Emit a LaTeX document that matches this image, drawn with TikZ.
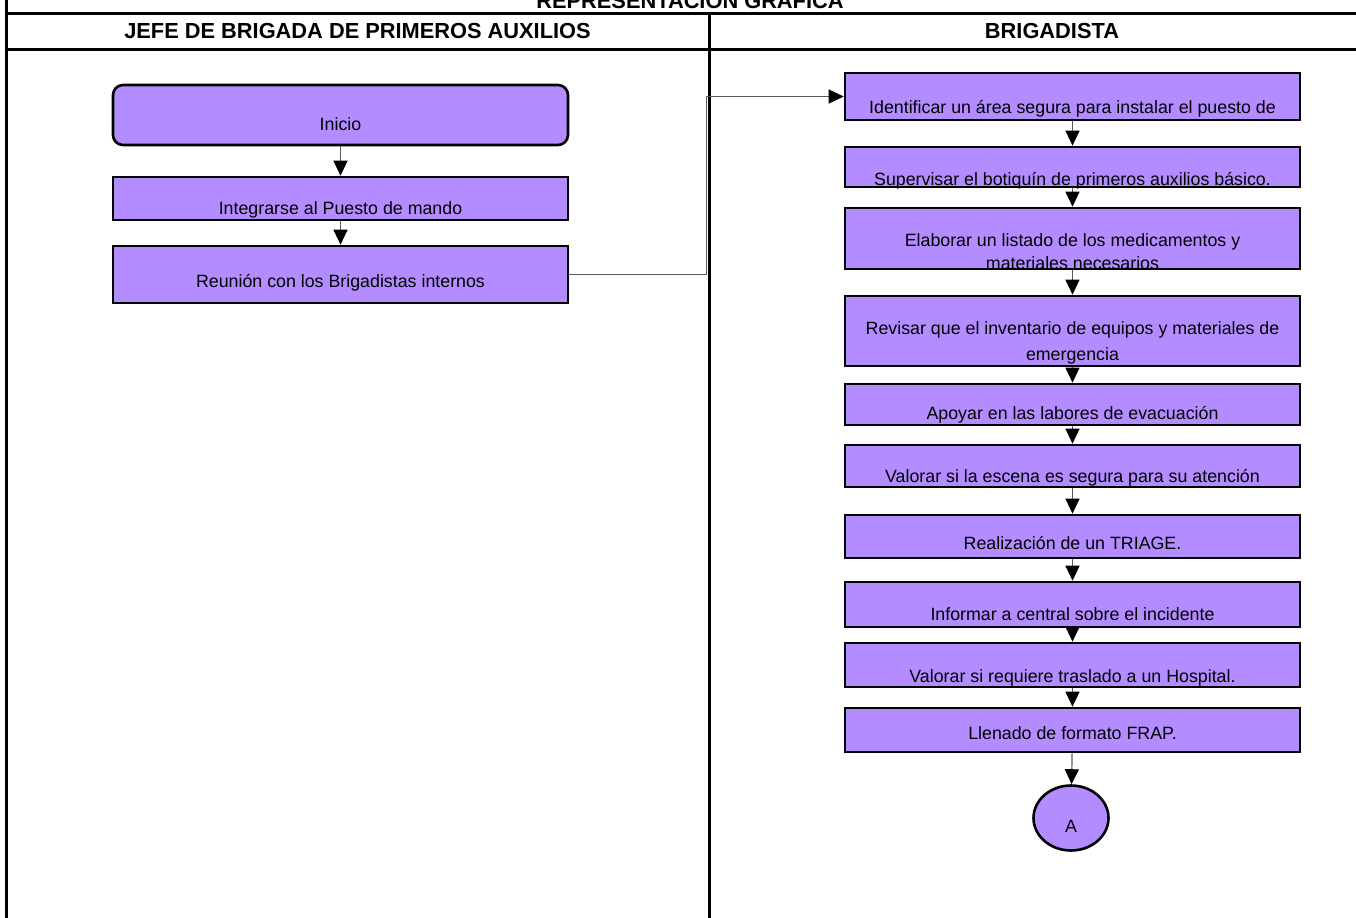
\documentclass[tikz,border=0pt]{standalone}
\usepackage{fontspec}
\setmainfont{Liberation Sans}
\usepackage{tikz}
\usetikzlibrary{arrows.meta,shapes.geometric}
\definecolor{lila}{HTML}{B38DFF}
\tikzset{
  paso/.style 2 args={draw=black, fill=lila, line width=1.3pt, align=center,
              font=\fontsize{8.9pt}{11.5pt}\selectfont, inner xsep=0pt, inner ysep=0pt,
              minimum width=227.5pt, text height=#1, text depth=#2, anchor=base},
  inicio/.style 2 args={paso={#1}{#2}, rounded corners=5pt},
  conector/.style={ellipse, draw=black, fill=lila, line width=1.3pt, font=\fontsize{8.9pt}{11pt}\selectfont,
              minimum width=37.5pt, minimum height=32.5pt, inner sep=0pt, text height=14pt, text depth=0pt},
  flow/.style={-{Triangle[width=7pt, length=7.5pt, color=black]}, line width=0.6pt, draw=black!65},
  rejilla/.style={line width=1.5pt, draw=black},
  encab/.style={font=\fontsize{10.9pt}{13pt}\selectfont\bfseries, inner sep=0pt},
}
\begin{document}
\begin{tikzpicture}[x=0.5pt, y=-0.5pt]
  \useasboundingbox (0,0) rectangle (1356,917);
  \draw[rejilla] (6,-5) -- (6,930);
  \draw[rejilla] (6,13) -- (1400,13);
  \draw[rejilla] (6,49) -- (1400,49);
  \draw[rejilla] (709,13) -- (709,930);
  \node[encab, anchor=base] (titulo) at (690,8) {REPRESENTACIÓN GRÁFICA};
  \node[encab] (jefe) at (357.5,31) {JEFE DE BRIGADA DE PRIMEROS AUXILIOS};
  \node[encab] (brigadista) at (1052,31) {BRIGADISTA};

  \node[inicio={22.5pt}{7.5pt}] (inicio) at (340.5,130) {Inicio};
  \node[paso={18.5pt}{3pt}] (integrarse) at (340.5,214) {Integrarse al Puesto de mando};
  \node[paso={20.5pt}{8pt}] (reunion) at (340.5,287) {Reunión con los Brigadistas internos};

  \node[paso={20pt}{3.5pt}] (identificar) at (1072.5,113) {Identificar un área segura para instalar el puesto de};
  \node[paso={19pt}{1pt}] (supervisar) at (1072.5,185) {Supervisar el botiquín de primeros auxilios básico.};
  \node[paso={30.5pt}{0pt}] (elaborar) at (1072.5,269) {Elaborar un listado de los medicamentos y\\ materiales necesarios};
  \node[paso={32pt}{3pt}] (revisar) at (1072.5,360) {Revisar que el inventario de equipos y materiales de\\[1.5pt] emergencia};
  \node[paso={17.5pt}{3pt}] (apoyar) at (1072.5,419) {Apoyar en las labores de evacuación};
  \node[paso={18.5pt}{2.5pt}] (escena) at (1072.5,482) {Valorar si la escena es segura para su atención};
  \node[paso={17pt}{4.5pt}] (triage) at (1072.5,549) {Realización de un TRIAGE.};
  \node[paso={19pt}{3.5pt}] (informar) at (1072.5,620) {Informar a central sobre el incidente};
  \node[paso={19.5pt}{2.5pt}] (traslado) at (1072.5,682) {Valorar si requiere traslado a un Hospital.};
  \node[paso={15.5pt}{6.5pt}] (frap) at (1072.5,739) {Llenado de formato FRAP.};
  \node[conector] (A) at (1071,818) {A};

  \draw[flow] (inicio) -- (integrarse);
  \draw[flow] (integrarse) -- (reunion);
  \draw[flow] (reunion.east) -- ++(137,0) |- (identificar.west);
  \foreach \a/\b in {identificar/supervisar, supervisar/elaborar, elaborar/revisar, revisar/apoyar,
                     apoyar/escena, escena/triage, triage/informar, informar/traslado, traslado/frap, frap/A}
    \draw[flow] (\a) -- (\b);
\end{tikzpicture}
\end{document}
